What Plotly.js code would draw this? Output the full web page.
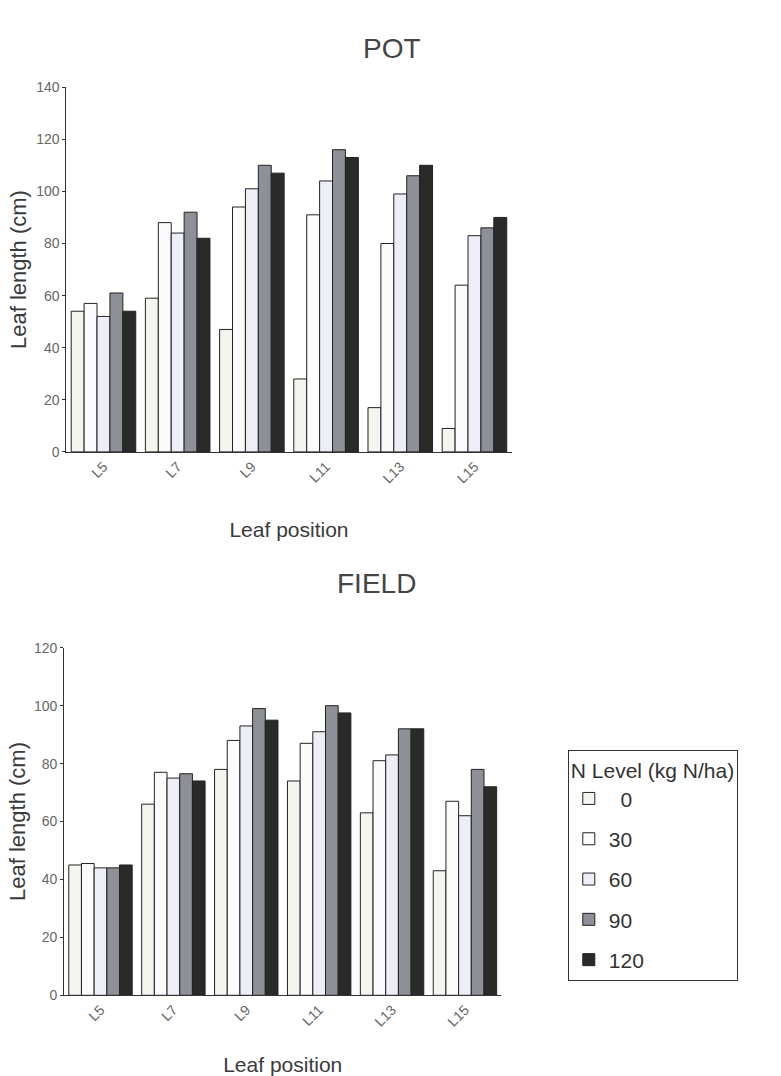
<!DOCTYPE html>
<html>
<head>
<meta charset="utf-8">
<script src="https://cdn.plot.ly/plotly-3.0.1.min.js"></script>
<style>html,body{margin:0;padding:0;background:#fff;}#chart{width:781px;height:1076px;}</style>
</head>
<body>
<div id="chart"></div>
<script>
const leafPositions = ["L5", "L7", "L9", "L11", "L13", "L15"];
const nLevels = ["0", "30", "60", "90", "120"];

// POT: leaf length (cm) per N level, in leaf-position order
const pot0   = [54, 59, 47, 28, 17, 9];
const pot30  = [57, 88, 94, 91, 80, 64];
const pot60  = [52, 84, 101, 104, 99, 83];
const pot90  = [61, 92, 110, 116, 106, 86];
const pot120 = [54, 82, 107, 113, 110, 90];

// FIELD: leaf length (cm) per N level
const field0   = [45, 66, 78, 74, 63, 43];
const field30  = [45.5, 77, 88, 87, 81, 67];
const field60  = [44, 75, 93, 91, 83, 62];
const field90  = [44, 76.5, 99, 100, 92, 78];
const field120 = [45, 74, 95, 97.5, 92, 72];

const potSeries = [pot0, pot30, pot60, pot90, pot120];
const fieldSeries = [field0, field30, field60, field90, field120];
const fills = ["#f6f4ee", "#fbfafd", "#eeeef7", "#8e9097", "#2a2a2a"];

const traces = [];
nLevels.forEach((lvl, i) => {
  traces.push({
    type: "bar", x: leafPositions, y: potSeries[i], name: lvl,
    legendgroup: "g" + i, showlegend: false,
    xaxis: "x", yaxis: "y",
    marker: {color: fills[i], line: {color: "#222", width: 1}}
  });
  traces.push({
    type: "bar", x: leafPositions, y: fieldSeries[i], name: (lvl === "0" ? "  0" : lvl),
    legendgroup: "g" + i, showlegend: true,
    xaxis: "x2", yaxis: "y2",
    marker: {color: fills[i], line: {color: "#222", width: 1}}
  });
});

const fontFam = "Liberation Sans, Arial, sans-serif";
const tickFont = {family: fontFam, size: 14, color: "#666"};
const yTitleFont = {family: fontFam, size: 22, color: "#3a3a3a"};
const xTitleFont = {family: fontFam, size: 21, color: "#3a3a3a"};

const yCommon = {
  showgrid: false, zeroline: false, showline: true, linecolor: "#333", linewidth: 1,
  ticks: "outside", ticklen: 3, tickcolor: "#333", tickfont: tickFont
};
const xCommon = {
  type: "category", showgrid: false, zeroline: false, showline: true,
  linecolor: "#333", linewidth: 1, ticks: "", tickangle: -45, tickfont: tickFont
};

const layout = {
  width: 781, height: 1076,
  margin: {l: 0, r: 0, t: 0, b: 0},
  paper_bgcolor: "#fff", plot_bgcolor: "#fff",
  barmode: "group", bargap: 0.13, bargroupgap: 0,
  showlegend: true,
  font: {family: fontFam},
  xaxis: Object.assign({}, xCommon, {domain: [0.085, 0.655], anchor: "y",
    title: {text: "Leaf position", font: xTitleFont, standoff: 36}}),
  yaxis: Object.assign({}, yCommon, {domain: [0.58, 0.919], anchor: "x", range: [0, 140],
    tickvals: [0, 20, 40, 60, 80, 100, 120, 140],
    title: {text: "Leaf length (cm)", font: yTitleFont, standoff: 3}}),
  xaxis2: Object.assign({}, xCommon, {domain: [0.082, 0.642], anchor: "y2",
    title: {text: "Leaf position", font: xTitleFont, standoff: 30}}),
  yaxis2: Object.assign({}, yCommon, {domain: [0.075, 0.398], anchor: "x2", range: [0, 120],
    tickvals: [0, 20, 40, 60, 80, 100, 120],
    title: {text: "Leaf length (cm)", font: yTitleFont, standoff: 2}}),
  legend: {
    x: 0.727, y: 1 - 750/1076, xanchor: "left", yanchor: "top",
    bordercolor: "#333", borderwidth: 1, bgcolor: "#fff",
    title: {text: "N Level (kg N/ha)", font: {family: fontFam, size: 21, color: "#333"}},
    font: {family: fontFam, size: 21, color: "#333"},
    traceorder: "grouped", tracegroupgap: 10, itemwidth: 30
  },
  annotations: [
    {text: "POT", xref: "paper", yref: "paper", x: 0.502, y: 1 - 31/1076,
     showarrow: false, font: {family: fontFam, size: 28, color: "#444"}},
    {text: "FIELD", xref: "paper", yref: "paper", x: 0.482, y: 1 - 583/1076,
     showarrow: false, font: {family: fontFam, size: 28, color: "#444"}}
  ]
};

Plotly.newPlot("chart", traces, layout, {displayModeBar: false, staticPlot: true});
</script>
</body>
</html>
